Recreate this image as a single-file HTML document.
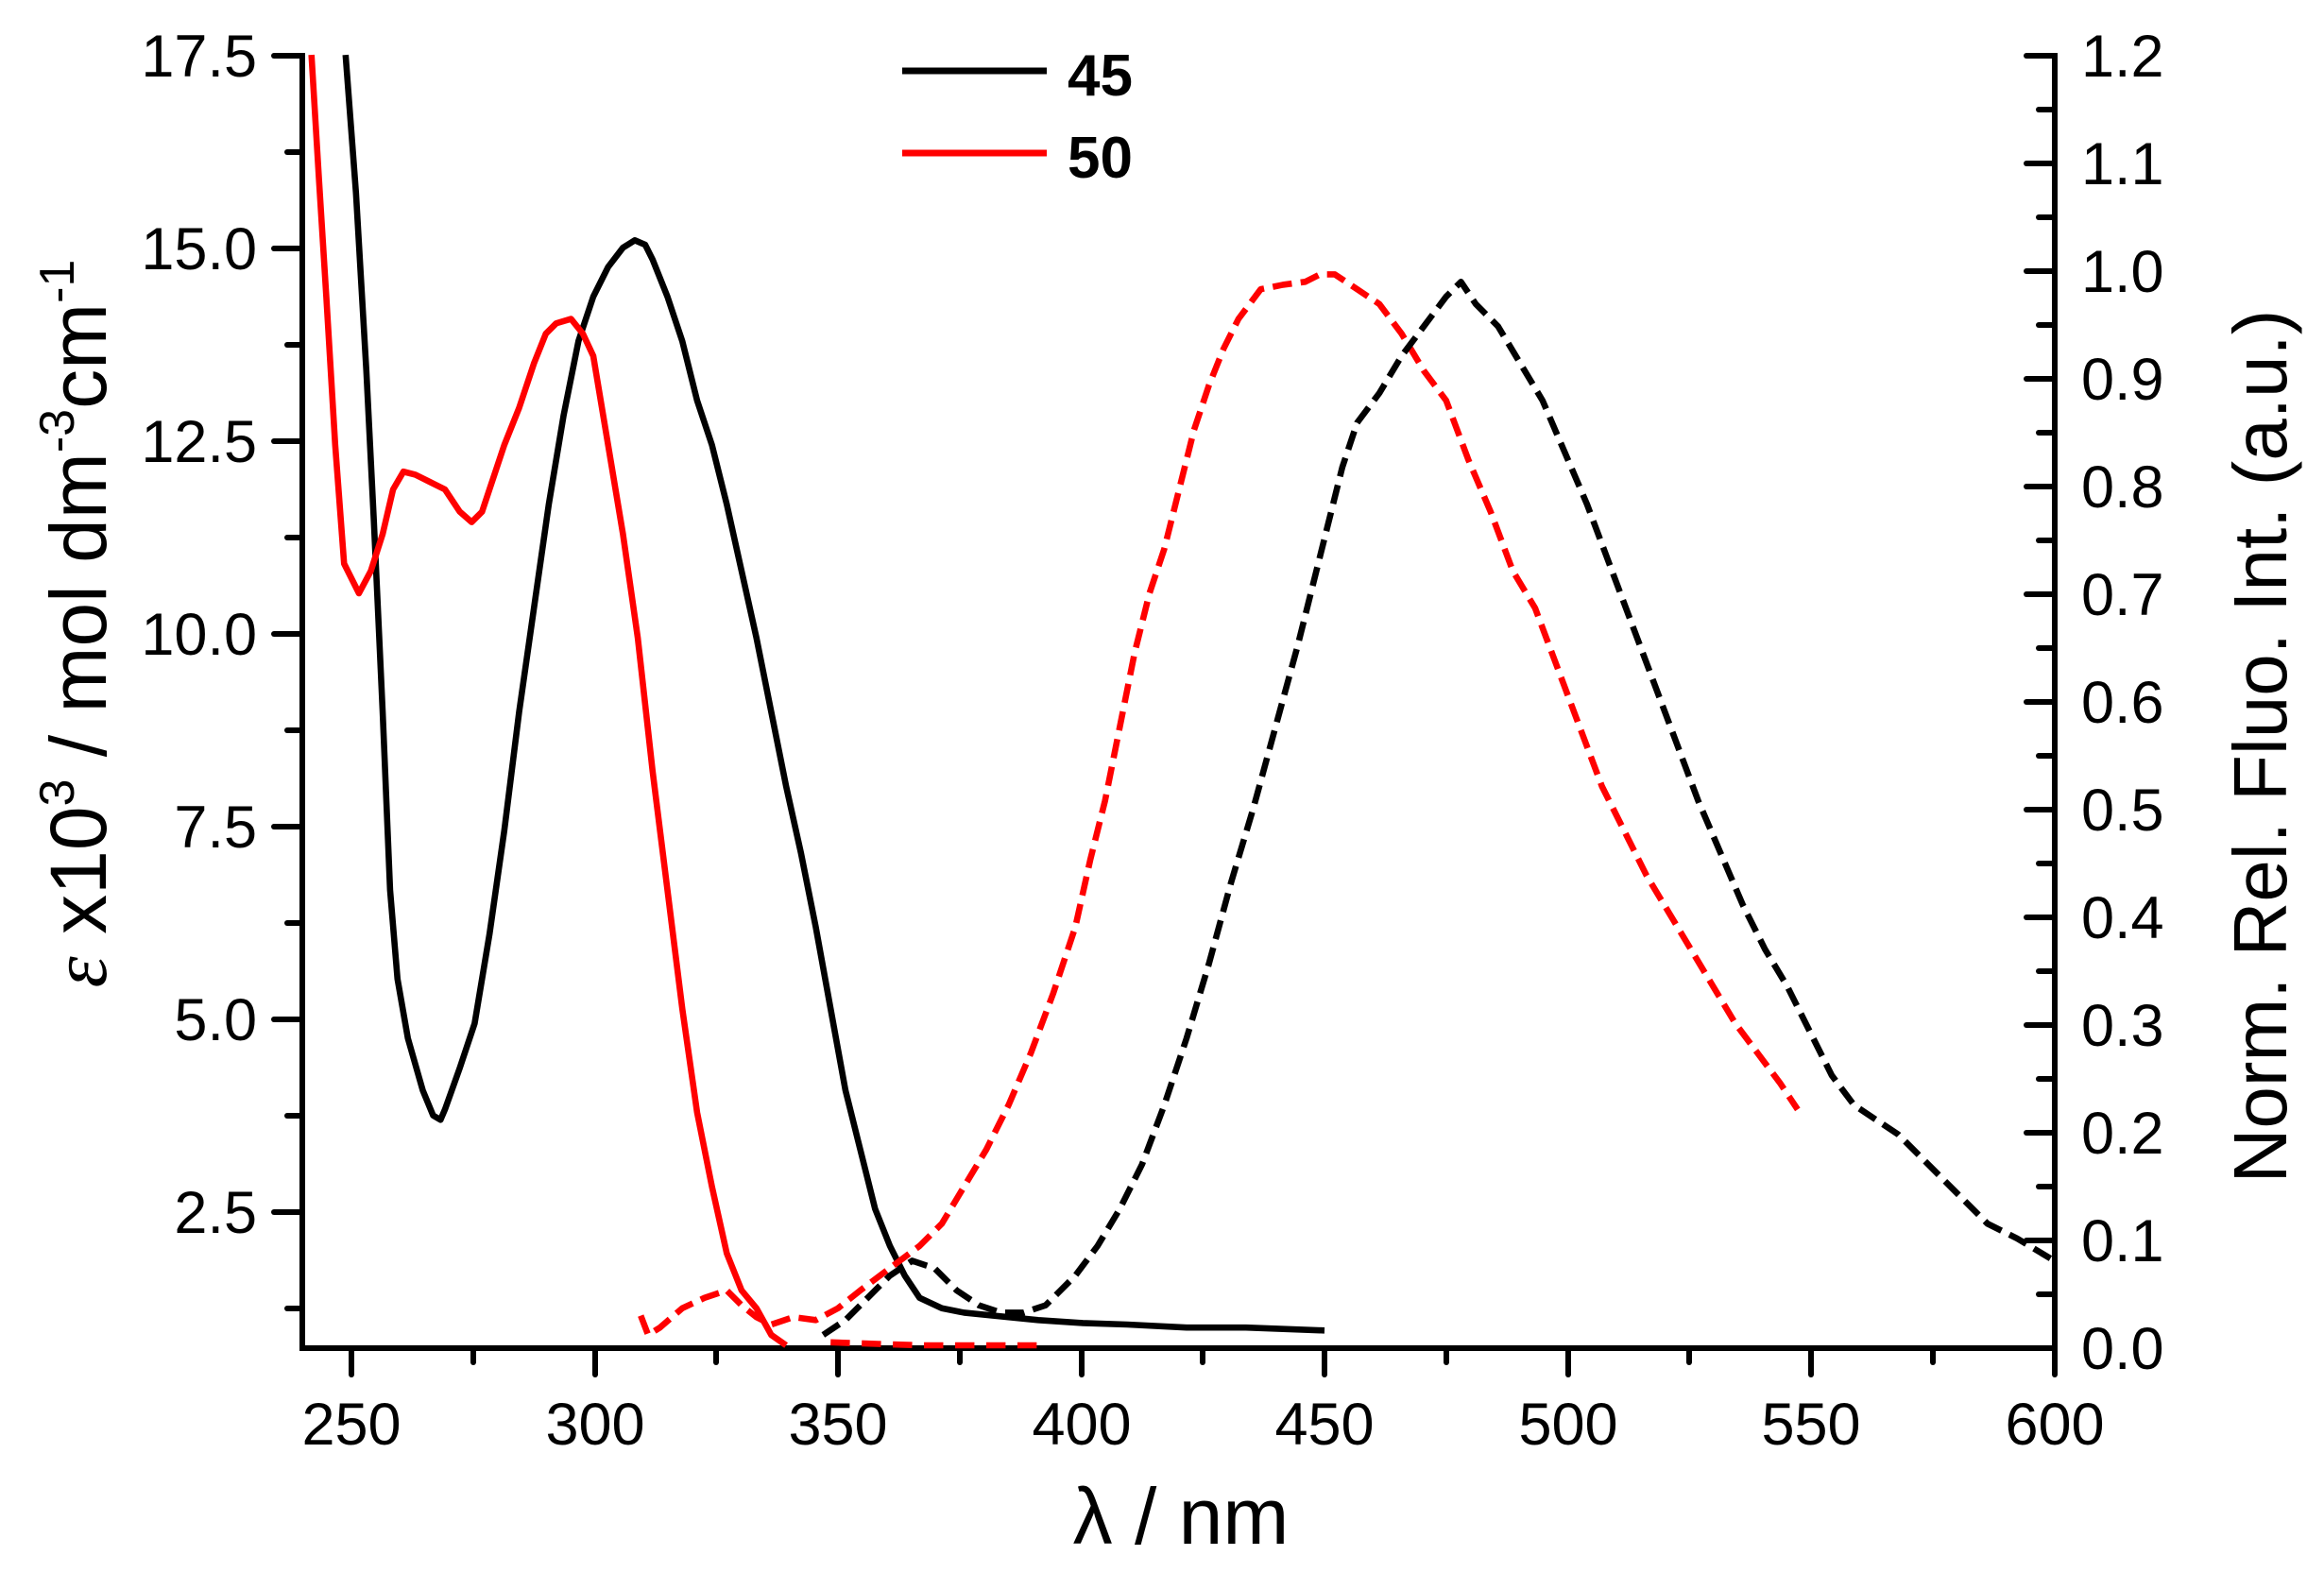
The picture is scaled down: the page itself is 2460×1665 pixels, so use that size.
<!DOCTYPE html>
<html><head><meta charset="utf-8"><style>
html,body{margin:0;padding:0;background:#fff;}
svg{display:block;font-family:"Liberation Sans",Arial,sans-serif;}
</style></head><body>
<svg width="2460" height="1665" viewBox="0 0 2460 1665" xmlns="http://www.w3.org/2000/svg">
<rect width="2460" height="1665" fill="#fff"/>
<g stroke="#000" stroke-width="6" fill="none" stroke-linecap="square">
<line x1="320" y1="59" x2="320" y2="1427"/>
<line x1="320" y1="1427" x2="2175" y2="1427"/>
<line x1="2175" y1="59" x2="2175" y2="1427"/>
</g>
<g stroke="#000" stroke-width="6" stroke-linecap="round">
<line x1="290" y1="59" x2="320" y2="59"/><line x1="290" y1="263" x2="320" y2="263"/><line x1="290" y1="467" x2="320" y2="467"/><line x1="290" y1="671" x2="320" y2="671"/><line x1="290" y1="875" x2="320" y2="875"/><line x1="290" y1="1079" x2="320" y2="1079"/><line x1="290" y1="1283" x2="320" y2="1283"/>
<line x1="304" y1="161" x2="320" y2="161"/><line x1="304" y1="365" x2="320" y2="365"/><line x1="304" y1="569" x2="320" y2="569"/><line x1="304" y1="773" x2="320" y2="773"/><line x1="304" y1="977" x2="320" y2="977"/><line x1="304" y1="1181" x2="320" y2="1181"/><line x1="304" y1="1385" x2="320" y2="1385"/>
<line x1="372" y1="1427" x2="372" y2="1455"/><line x1="630" y1="1427" x2="630" y2="1455"/><line x1="887" y1="1427" x2="887" y2="1455"/><line x1="1145" y1="1427" x2="1145" y2="1455"/><line x1="1402" y1="1427" x2="1402" y2="1455"/><line x1="1660" y1="1427" x2="1660" y2="1455"/><line x1="1917" y1="1427" x2="1917" y2="1455"/><line x1="2175" y1="1427" x2="2175" y2="1455"/>
<line x1="501" y1="1427" x2="501" y2="1442"/><line x1="758" y1="1427" x2="758" y2="1442"/><line x1="1016" y1="1427" x2="1016" y2="1442"/><line x1="1273" y1="1427" x2="1273" y2="1442"/><line x1="1531" y1="1427" x2="1531" y2="1442"/><line x1="1788" y1="1427" x2="1788" y2="1442"/><line x1="2046" y1="1427" x2="2046" y2="1442"/>
</g>
<g stroke="#000" stroke-width="6" stroke-linecap="round">
<line x1="2145" y1="59" x2="2175" y2="59"/><line x1="2145" y1="173" x2="2175" y2="173"/><line x1="2145" y1="287" x2="2175" y2="287"/><line x1="2145" y1="401" x2="2175" y2="401"/><line x1="2145" y1="515" x2="2175" y2="515"/><line x1="2145" y1="629" x2="2175" y2="629"/><line x1="2145" y1="743" x2="2175" y2="743"/><line x1="2145" y1="857" x2="2175" y2="857"/><line x1="2145" y1="971" x2="2175" y2="971"/><line x1="2145" y1="1085" x2="2175" y2="1085"/><line x1="2145" y1="1199" x2="2175" y2="1199"/><line x1="2145" y1="1313" x2="2175" y2="1313"/>
<line x1="2158" y1="116" x2="2175" y2="116"/><line x1="2158" y1="230" x2="2175" y2="230"/><line x1="2158" y1="344" x2="2175" y2="344"/><line x1="2158" y1="458" x2="2175" y2="458"/><line x1="2158" y1="572" x2="2175" y2="572"/><line x1="2158" y1="686" x2="2175" y2="686"/><line x1="2158" y1="800" x2="2175" y2="800"/><line x1="2158" y1="914" x2="2175" y2="914"/><line x1="2158" y1="1028" x2="2175" y2="1028"/><line x1="2158" y1="1142" x2="2175" y2="1142"/><line x1="2158" y1="1256" x2="2175" y2="1256"/><line x1="2158" y1="1370" x2="2175" y2="1370"/>
</g>
<g font-size="63" fill="#000" text-anchor="end">
<text x="272" y="81">17.5</text><text x="272" y="285">15.0</text><text x="272" y="489">12.5</text><text x="272" y="693">10.0</text><text x="272" y="897">7.5</text><text x="272" y="1101">5.0</text><text x="272" y="1305">2.5</text>
</g>
<g font-size="63" fill="#000" text-anchor="start">
<text x="2203" y="81">1.2</text><text x="2203" y="195">1.1</text><text x="2203" y="309">1.0</text><text x="2203" y="423">0.9</text><text x="2203" y="537">0.8</text><text x="2203" y="651">0.7</text><text x="2203" y="765">0.6</text><text x="2203" y="879">0.5</text><text x="2203" y="993">0.4</text><text x="2203" y="1107">0.3</text><text x="2203" y="1221">0.2</text><text x="2203" y="1335">0.1</text><text x="2203" y="1449">0.0</text>
</g>
<g font-size="63" fill="#000" text-anchor="middle">
<text x="372" y="1529">250</text><text x="630" y="1529">300</text><text x="887" y="1529">350</text><text x="1145" y="1529">400</text><text x="1402" y="1529">450</text><text x="1660" y="1529">500</text><text x="1917" y="1529">550</text><text x="2175" y="1529">600</text>
</g>
<text x="1250" y="1634" font-size="84" text-anchor="middle">λ / nm</text>
<text transform="translate(112,660) rotate(-90)" font-size="84" text-anchor="middle"><tspan font-style="italic" font-family="Liberation Serif">ε</tspan> x10<tspan font-size="52" dy="-34">3</tspan><tspan dy="34"> / mol dm</tspan><tspan font-size="52" dy="-34">-3</tspan><tspan dy="34">cm</tspan><tspan font-size="52" dy="-34">-1</tspan></text>
<text transform="translate(2420,790) rotate(-90)" font-size="80" text-anchor="middle">Norm. Rel. Fluo. Int. (a.u.)</text>
<line x1="955" y1="75" x2="1108" y2="75" stroke="#000" stroke-width="7"/>
<line x1="955" y1="162" x2="1108" y2="162" stroke="#f00" stroke-width="7"/>
<text x="1130" y="101" font-size="62" font-weight="bold">45</text>
<text x="1130" y="188" font-size="62" font-weight="bold">50</text>
<g transform="scale(1.57)" fill="none" stroke-width="4.2" stroke-linejoin="round">
<polyline stroke="#000" points="233,37 240,130 247,250 252,350 258,480 263,600 268,660 275,700 285,735 292,752 297,755 300,748 310,720 320,690 330,630 340,560 350,480 360,410 370,340 380,280 390,230 400,200 410,180 420,167 428,162 435,165 440,175 450,200 460,230 470,270 480,300 490,340 500,385 510,430 520,480 530,530 540,575 550,625 560,680 570,735 580,775 590,815 600,840 610,860 620,875 635,882 650,885 680,888 700,890 730,892 760,893 800,895 840,895 893,897"/>
<polyline stroke="#f00" points="210,37 215,120 220,200 226,300 232,380 242,400 250,385 258,360 265,330 272,318 280,320 290,325 300,330 310,345 318,352 325,345 330,330 340,300 350,275 360,245 368,225 375,218 385,215 393,225 400,240 410,300 420,360 430,430 440,520 450,600 460,680 470,750 480,800 490,845 500,870 510,882 520,900 530,907"/>
<polyline stroke="#f00" stroke-dasharray="13,6" points="432,887 437,900 445,895 460,882 475,875 490,870 500,880 510,888 520,893 535,888 550,890 565,882 580,870 600,855 620,840 635,825 650,800 665,775 680,745 695,710 710,670 725,625 735,580 745,540 755,490 765,440 775,400 785,370 795,330 805,290 815,260 825,235 835,215 850,195 865,192 880,190 890,185 900,185 915,195 930,205 945,225 960,250 975,270 990,310 1005,345 1020,385 1035,410 1050,450 1065,490 1080,530 1095,560 1110,590 1125,615 1140,640 1155,665 1170,690 1185,710 1200,730 1212,748"/>
<polyline stroke="#f00" stroke-dasharray="13,8" points="560,905 620,907 700,907"/>
<polyline stroke="#000" stroke-dasharray="13,6" points="555,900 570,890 585,875 600,860 615,850 630,855 645,870 660,880 675,885 690,885 705,880 715,870 725,860 740,840 755,815 770,785 785,745 800,700 815,650 830,595 845,545 860,490 875,435 885,395 895,355 905,315 915,285 930,265 945,240 960,220 975,200 985,190 995,205 1010,220 1025,245 1040,270 1055,305 1070,340 1085,380 1100,420 1115,460 1130,500 1145,540 1160,575 1175,610 1190,640 1205,665 1220,695 1235,725 1250,745 1265,755 1280,765 1295,780 1310,795 1325,810 1340,825 1360,835 1385,850"/>
</g>
</svg>
</body></html>
